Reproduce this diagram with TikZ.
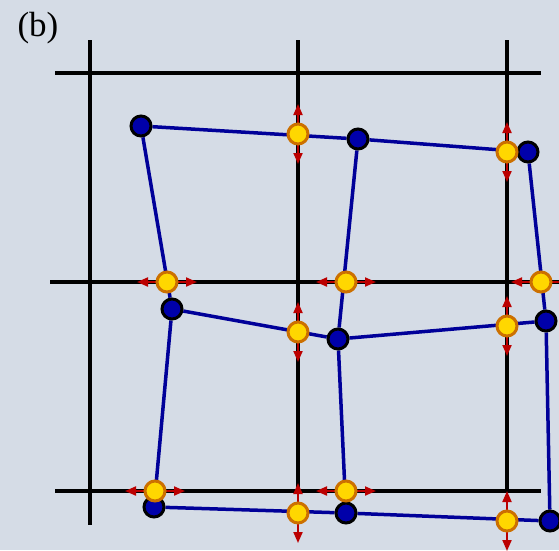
\documentclass[tikz,border=0pt]{standalone}
\usepackage{fontspec}
\setmainfont{Liberation Serif}
\usetikzlibrary{arrows.meta}
\definecolor{bgc}{HTML}{D5DCE6}
\definecolor{bluefill}{HTML}{0000AA}
\definecolor{blueline}{HTML}{000099}
\definecolor{goldfill}{HTML}{FFD700}
\definecolor{orangeb}{HTML}{CC7000}
\definecolor{redarr}{HTML}{BB0000}
\pgfdeclarelayer{bg}
\pgfsetlayers{bg,main}
\begin{document}
\begin{tikzpicture}[x=1pt,y=-1pt,
  gridline/.style={line width=3.5pt,black},
  bedge/.style={line width=3.5pt,blueline},
  bnode/.style={circle,draw=black,line width=3pt,fill=bluefill,minimum size=20pt,inner sep=0pt},
  ynode/.style={circle,draw=orangeb,line width=3pt,fill=goldfill,minimum size=20pt,inner sep=0pt},
  rarrow/.style={line width=2pt,redarr,-{Triangle[length=11pt,width=9pt]}}]
\useasboundingbox (0,0) rectangle (559,550);
\clip (0,0) rectangle (559,550);
\node[font=\fontsize{35}{38}\selectfont] (lbl) at (38,28) {(b)};
% blue nodes
\node[bnode] (A1) at (141,126) {};
\node[bnode] (A2) at (358,139) {};
\node[bnode] (A3) at (528,152) {};
\node[bnode] (B1) at (172,309) {};
\node[bnode] (B2) at (338,339) {};
\node[bnode] (B3) at (546,321) {};
\node[bnode] (C1) at (154,507) {};
\node[bnode] (C2) at (346,513) {};
\node[bnode] (C3) at (550,521) {};
% yellow nodes
\node[ynode] (Y1) at (298,134) {};
\node[ynode] (Y2) at (507,152) {};
\node[ynode] (Y3) at (167,282) {};
\node[ynode] (Y4) at (346,282) {};
\node[ynode] (Y5) at (541,282) {};
\node[ynode] (Y6) at (298,332) {};
\node[ynode] (Y7) at (507,326) {};
\node[ynode] (Y8) at (155,491) {};
\node[ynode] (Y9) at (346,491) {};
\node[ynode] (Y10) at (298,513) {};
\node[ynode] (Y11) at (507,521) {};
\begin{pgfonlayer}{bg}
\fill[bgc] (0,0) rectangle (559,550);
% grid
\coordinate (gv1t) at (90,40);  \coordinate (gv1b) at (90,525);
\coordinate (gv2t) at (298,40); \coordinate (gv2b) at (298,491);
\coordinate (gv3t) at (507,40); \coordinate (gv3b) at (507,491);
\coordinate (gh1l) at (55,73);  \coordinate (gh1r) at (541,73);
\coordinate (gh2l) at (50,282); \coordinate (gh2r) at (570,282);
\coordinate (gh3l) at (55,491); \coordinate (gh3r) at (541,491);
\draw[gridline] (gv1t) -- (gv1b);
\draw[gridline] (gv2t) -- (gv2b);
\draw[gridline] (gv3t) -- (gv3b);
\draw[gridline] (gh1l) -- (gh1r);
\draw[gridline] (gh2l) -- (gh2r);
\draw[gridline] (gh3l) -- (gh3r);
% blue edges
\draw[bedge] (A1) -- (A2) -- (A3);
\draw[bedge] (B1) -- (B2) -- (B3);
\draw[bedge] (C1) -- (C2) -- (C3);
\draw[bedge] (A1) -- (B1) -- (C1);
\draw[bedge] (A2) -- (B2) -- (C2);
\draw[bedge] (A3) -- (B3) -- (C3);
% red arrows
\foreach \n in {Y1,Y2,Y6,Y7,Y10,Y11}{
  \draw[rarrow] (\n.center) -- ++(0,-30);
  \draw[rarrow] (\n.center) -- ++(0,30);
}
\foreach \n in {Y3,Y4,Y5,Y8,Y9}{
  \draw[rarrow] (\n.center) -- ++(-30,0);
  \draw[rarrow] (\n.center) -- ++(30,0);
}
\end{pgfonlayer}
\end{tikzpicture}
\end{document}
